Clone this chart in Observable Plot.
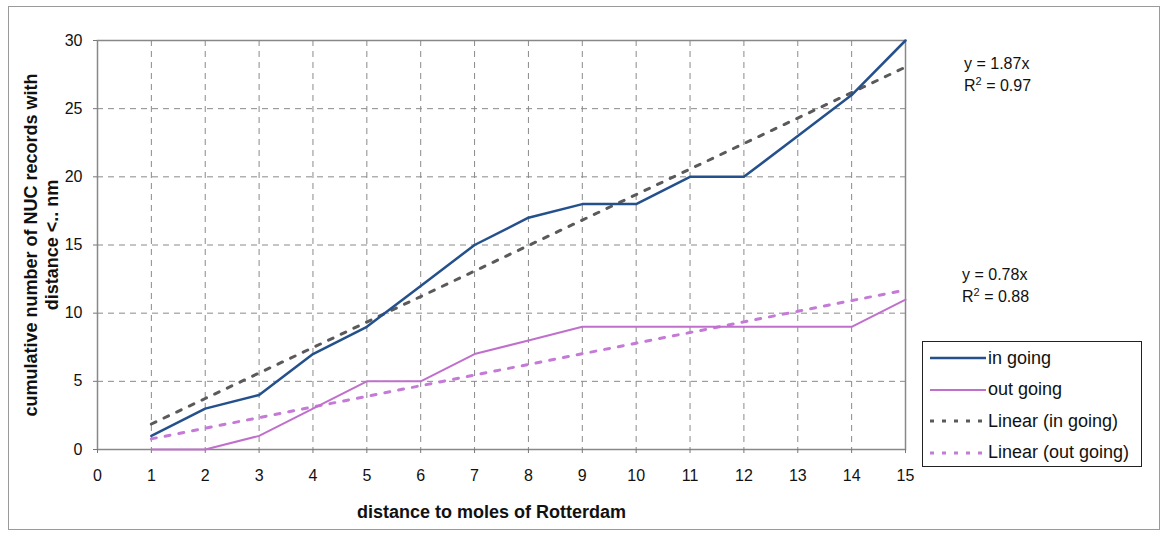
<!DOCTYPE html>
<html>
<head>
<meta charset="utf-8">
<script src="https://cdn.jsdelivr.net/npm/d3@7"></script>
<script src="https://cdn.jsdelivr.net/npm/@observablehq/plot@0.6"></script>
<style>
  html, body { margin: 0; padding: 0; background: #fff; }
  #wrap { position: relative; width: 1169px; height: 544px; font-family: "Liberation Sans", Arial, sans-serif; }
  #outer { position: absolute; left: 8px; top: 6px; width: 1152px; height: 524px; border: 1.5px solid #9a9a9a; box-sizing: border-box; }
  .ann { position: absolute; font-size: 16px; color: #111; line-height: 22px; }
  #legend { position: absolute; left: 922px; top: 341px; width: 220px; height: 126px; border: 1.5px solid #222; box-sizing: border-box; background: #fff; }
  .li { position: absolute; left: 5px; height: 22px; display: flex; align-items: center; font-size: 18px; color: #111; white-space: nowrap; }
  .li svg { margin-right: 2px; }
</style>
</head>
<body>
<div id="wrap">
  <div id="outer"></div>
</div>
<script>
const distance = [1, 2, 3, 4, 5, 6, 7, 8, 9, 10, 11, 12, 13, 14, 15];
const inGoing  = [1, 3, 4, 7, 9, 12, 15, 17, 18, 18, 20, 20, 23, 26, 30];
const outGoing = [0, 0, 1, 3, 5, 5, 7, 8, 9, 9, 9, 9, 9, 9, 11];
const slopeIn = 1.87, r2In = 0.97;
const slopeOut = 0.78, r2Out = 0.88;
const xTicks = [0, 1, 2, 3, 4, 5, 6, 7, 8, 9, 10, 11, 12, 13, 14, 15];
const yTicks = [0, 5, 10, 15, 20, 25, 30];
const seriesNames = ["in going", "out going", "Linear (in going)", "Linear (out going)"];

const colIn = "#24508c", colOut = "#c070cc", colTrendIn = "#5a5a5a", colTrendOut = "#c47ad6";

const inData = distance.map((d, i) => ({x: d, y: inGoing[i]}));
const outData = distance.map((d, i) => ({x: d, y: outGoing[i]}));
const trendIn = distance.map(d => ({x: d, y: slopeIn * d}));
const trendOut = distance.map(d => ({x: d, y: slopeOut * d}));

const chart = Plot.plot({
  width: 1169,
  height: 544,
  marginLeft: 97,
  marginRight: 264,
  marginTop: 40,
  marginBottom: 95,
  style: {fontFamily: "'Liberation Sans', Arial, sans-serif", fontSize: "16px", color: "#111", background: "transparent"},
  x: {domain: [0, 15]},
  y: {domain: [0, 30]},
  marks: [
    Plot.ruleX(xTicks.filter(d => d > 0 && d < 15), {stroke: "#8a8a8a", strokeDasharray: "6,5", strokeWidth: 1}),
    Plot.ruleY(yTicks.filter(d => d > 0 && d < 30), {stroke: "#8a8a8a", strokeDasharray: "6,5", strokeWidth: 1}),
    Plot.frame({stroke: "#888", strokeWidth: 1.5}),
    Plot.axisX({ticks: xTicks, tickSize: 4, tickPadding: 16, label: null, stroke: "#777", fontSize: 16}),
    Plot.axisY({ticks: yTicks, tickSize: 4, tickPadding: 11, label: null, stroke: "#777", fontSize: 16}),
    Plot.line(trendIn, {x: "x", y: "y", stroke: colTrendIn, strokeWidth: 3, strokeDasharray: "5,9"}),
    Plot.line(trendOut, {x: "x", y: "y", stroke: colTrendOut, strokeWidth: 3, strokeDasharray: "5,9"}),
    Plot.line(outData, {x: "x", y: "y", stroke: colOut, strokeWidth: 2}),
    Plot.line(inData, {x: "x", y: "y", stroke: colIn, strokeWidth: 2.5}),
    Plot.text(["distance to moles of Rotterdam"], {frameAnchor: "bottom", dx: -10, dy: 68, text: d => d, fontWeight: "bold", fontSize: 18, fill: "#111"}),
    Plot.text(["cumulative number of NUC records with\ndistance <.. nm"], {frameAnchor: "left", textAnchor: "middle", dx: -57, rotate: -90, text: d => d, fontWeight: "bold", fontSize: 18, lineHeight: 1.2, fill: "#111", style: {letterSpacing: "0.6px"}})
  ]
});
const wrap = document.getElementById("wrap");
chart.style.position = "absolute";
chart.style.left = "0";
chart.style.top = "0";
wrap.appendChild(chart);

function ann(left, top, slope, r2) {
  const d = document.createElement("div");
  d.className = "ann";
  d.style.left = left + "px";
  d.style.top = top + "px";
  d.innerHTML = `y = ${slope}x<br>R<sup style="font-size:11px;line-height:0">2</sup> = ${r2}`;
  wrap.appendChild(d);
}
ann(964, 53, slopeIn.toFixed(2), r2In.toFixed(2));
ann(962, 264, slopeOut.toFixed(2), r2Out.toFixed(2));

const legend = document.createElement("div");
legend.id = "legend";
const styles = [
  {c: colIn, w: 2.5, dash: null},
  {c: colOut, w: 2, dash: null},
  {c: colTrendIn, w: 3, dash: "4,8"},
  {c: colTrendOut, w: 3, dash: "4,8"}
];
seriesNames.forEach((name, i) => {
  const row = document.createElement("div");
  row.className = "li";
  row.style.top = (5 + i * 31.5) + "px";
  const s = styles[i];
  row.innerHTML = `<svg width="58" height="10"><line x1="2" y1="5" x2="58" y2="5" stroke="${s.c}" stroke-width="${s.w}" ${s.dash ? `stroke-dasharray="${s.dash}"` : ""}/></svg><span>${name}</span>`;
  legend.appendChild(row);
});
wrap.appendChild(legend);
</script>
</body>
</html>
